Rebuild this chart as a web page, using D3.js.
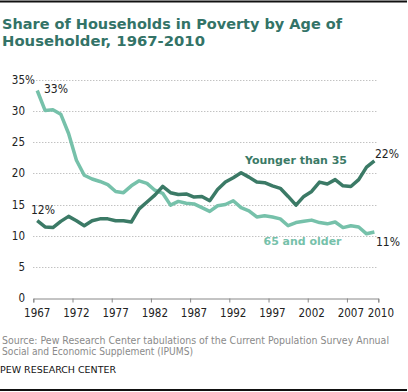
<!DOCTYPE html>
<html>
<head>
<meta charset="utf-8">
<script src="https://cdn.jsdelivr.net/npm/d3@7/dist/d3.min.js"></script>
<style>
  html, body { margin: 0; padding: 0; background: #fff; }
  svg { display: block; }
</style>
</head>
<body>
<svg id="chart" width="408" height="392"></svg>
<script>
const years = d3.range(1967, 2011);
const younger = [12.4, 11.4, 11.3, 12.3, 13.1, 12.4, 11.6, 12.4, 12.7, 12.7,
                 12.4, 12.4, 12.2, 14.3, 15.4, 16.5, 17.9, 16.9, 16.6, 16.7,
                 16.2, 16.3, 15.6, 17.4, 18.6, 19.3, 20.1, 19.4, 18.6, 18.5,
                 18.0, 17.6, 16.3, 14.9, 16.3, 17.1, 18.6, 18.3, 19.0, 18.0,
                 17.9, 19.0, 21.0, 22.0];
const older = [33.3, 30.1, 30.2, 29.5, 26.4, 22.1, 19.7, 19.1, 18.7, 18.2,
               17.1, 16.9, 18.0, 18.8, 18.4, 17.3, 16.8, 14.9, 15.5, 15.2,
               15.1, 14.5, 13.9, 14.8, 15.0, 15.6, 14.5, 14.0, 13.0, 13.2,
               13.0, 12.7, 11.6, 12.1, 12.3, 12.5, 12.1, 11.9, 12.2, 11.3,
               11.6, 11.4, 10.3, 10.6];
const yTicks = [0, 5, 10, 15, 20, 25, 30, 35];
const xLabelYears = [1967, 1972, 1977, 1982, 1987, 1992, 1997, 2002, 2007, 2010];
const seriesNames = ["Younger than 35", "65 and older"];
const titleLines = ["Share of Households in Poverty by Age of", "Householder, 1967-2010"];
const sourceLines = ["Source: Pew Research Center tabulations of the Current Population Survey Annual",
                     "Social and Economic Supplement (IPUMS)"];
const credit = "PEW RESEARCH CENTER";

const svg = d3.select("#chart");
const darkGreen = "#3b7a66";
const lightGreen = "#76c1aa";
const titleColor = "#337367";
const sansT = "Tahoma, 'DejaVu Sans Condensed', 'DejaVu Sans', sans-serif";
const sansV = "Verdana, 'DejaVu Sans', sans-serif";

const x = d3.scaleLinear().domain([1966.5, 2010.5]).range([33.3, 378.3]);
const y = d3.scaleLinear().domain([0, 35]).range([298, 79.9]);

// rules
svg.append("rect").attr("x", 0).attr("y", 0.5).attr("width", 407).attr("height", 2).attr("fill", "#111");
svg.append("rect").attr("x", 0).attr("y", 389).attr("width", 407).attr("height", 2).attr("fill", "#111");

// title
svg.append("g").selectAll("text").data(titleLines).join("text")
  .attr("x", 2).attr("y", (d, i) => 29 + i * 17)
  .attr("font-family", sansV).attr("font-weight", "bold").attr("font-size", 14.5)
  .attr("fill", titleColor)
  .attr("textLength", (d, i) => i === 0 ? 340 : 203).attr("lengthAdjust", "spacingAndGlyphs")
  .text(d => d);

// gridlines
svg.append("g").selectAll("line").data(yTicks.filter(d => d > 0)).join("line")
  .attr("x1", x(1966.5)).attr("x2", x(2010.5))
  .attr("y1", d => Math.round(y(d)) + 0.5).attr("y2", d => Math.round(y(d)) + 0.5)
  .attr("stroke", "#a8a8a8").attr("stroke-width", 1).attr("stroke-dasharray", "1,2");

// y labels
svg.append("g").selectAll("text").data(yTicks).join("text")
  .attr("x", 25).attr("y", d => y(d) + 4)
  .attr("text-anchor", "end")
  .attr("font-family", sansT).attr("font-size", 11.5).attr("fill", "#222")
  .text(d => d);
svg.append("text").attr("x", 25).attr("y", y(35) + 4)
  .attr("font-family", sansT).attr("font-size", 11.5).attr("fill", "#222").text("%");

// x axis
const xAxis = d3.axisBottom(x)
  .tickValues(d3.range(1966.5, 2007, 5).concat([2010.5]))
  .tickSize(4).tickFormat("");
const gx = svg.append("g").attr("transform", `translate(0,${Math.round(y(0)) + 0.5})`).call(xAxis);
gx.select(".domain").attr("stroke", "#888").attr("stroke-width", 1);
gx.selectAll(".tick line").attr("stroke", "#888");

svg.append("g").selectAll("text").data(xLabelYears).join("text")
  .attr("x", d => d === 2010 ? x(d) + 6.5 : x(d))
  .attr("y", 317).attr("text-anchor", "middle")
  .attr("font-family", sansT).attr("font-size", 11.5).attr("fill", "#222")
  .text(d => d);

// lines
const line = d3.line().x((d, i) => x(years[i])).y(d => y(d));
svg.append("path").datum(older).attr("d", line)
  .attr("fill", "none").attr("stroke", lightGreen).attr("stroke-width", 3.5)
  .attr("stroke-linejoin", "round");
svg.append("path").datum(younger).attr("d", line)
  .attr("fill", "none").attr("stroke", darkGreen).attr("stroke-width", 3.5)
  .attr("stroke-linejoin", "round");

// value labels
const valLabel = (txt, xx, yy) => svg.append("text").attr("x", xx).attr("y", yy)
  .attr("font-family", sansT).attr("font-size", 12).attr("fill", "#222").text(txt);
valLabel(Math.round(older[0]) + "%", 44, 93);
valLabel(Math.round(younger[0]) + "%", 31, 214);
valLabel(Math.round(younger[younger.length - 1]) + "%", 375, 158);
valLabel(Math.round(older[older.length - 1]) + "%", 376, 246);

// series labels
svg.append("text").attr("x", 245).attr("y", 164)
  .attr("font-family", sansV).attr("font-weight", "bold").attr("font-size", 11)
  .attr("fill", darkGreen).attr("textLength", 102).attr("lengthAdjust", "spacingAndGlyphs")
  .text(seriesNames[0]);
svg.append("text").attr("x", 263.5).attr("y", 245)
  .attr("font-family", sansV).attr("font-weight", "bold").attr("font-size", 11)
  .attr("fill", lightGreen).attr("textLength", 78).attr("lengthAdjust", "spacingAndGlyphs")
  .text(seriesNames[1]);

// source
svg.append("g").selectAll("text").data(sourceLines).join("text")
  .attr("x", 2).attr("y", (d, i) => 344 + i * 11)
  .attr("font-family", sansT).attr("font-size", 10).attr("fill", "#8a8a8a")
  .attr("textLength", (d, i) => i === 0 ? 387 : 191).attr("lengthAdjust", "spacingAndGlyphs")
  .text(d => d);
svg.append("text").attr("x", 0).attr("y", 372.5)
  .attr("font-family", sansT).attr("font-size", 9.5).attr("fill", "#111")
  .attr("textLength", 116).attr("lengthAdjust", "spacingAndGlyphs")
  .text(credit);
</script>
</body>
</html>
